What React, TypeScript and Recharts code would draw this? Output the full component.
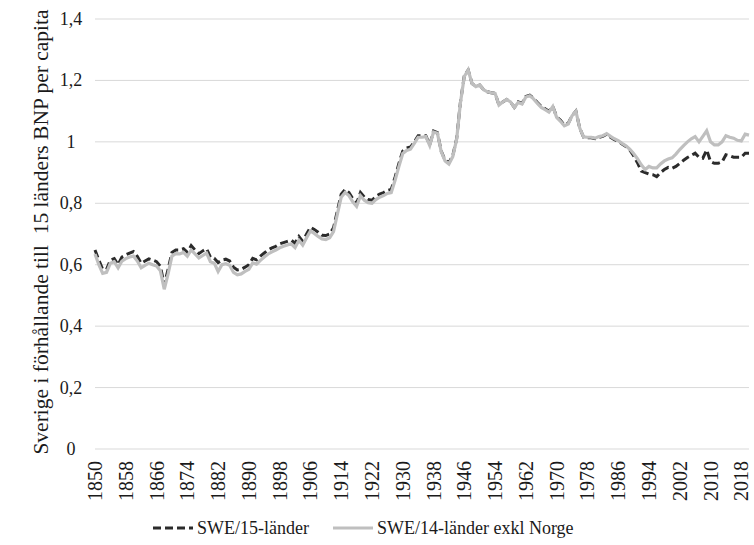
import React from 'react';
import { LineChart, Line, XAxis, YAxis, CartesianGrid } from 'recharts';

// Sverige i förhållande till övriga länders BNP per capita, 1850–2020
const firstYear = 1850;

const swe15 = [
  // 1850
  0.648, 0.615, 0.585, 0.585, 0.615, 0.62, 0.6, 0.625, 0.632, 0.638,
  // 1860
  0.643, 0.627, 0.605, 0.612, 0.619, 0.615, 0.61, 0.595, 0.534, 0.585,
  // 1870
  0.64, 0.648, 0.648, 0.652, 0.64, 0.662, 0.648, 0.636, 0.645, 0.652,
  // 1880
  0.625, 0.621, 0.607, 0.615, 0.618, 0.612, 0.592, 0.583, 0.585, 0.592,
  // 1890
  0.6, 0.621, 0.616, 0.628, 0.638, 0.648, 0.655, 0.66, 0.668, 0.672,
  // 1900
  0.676, 0.68, 0.67, 0.692, 0.676, 0.7, 0.722, 0.715, 0.706, 0.696,
  // 1910
  0.695, 0.7, 0.72, 0.775, 0.83, 0.845, 0.835, 0.815, 0.8, 0.835,
  // 1920
  0.82, 0.812, 0.81, 0.822, 0.83, 0.835, 0.842, 0.845, 0.885, 0.93,
  // 1930
  0.97, 0.98, 0.983, 1.0, 1.02, 1.02, 1.02, 0.99, 1.035, 1.03,
  // 1940
  0.97, 0.94, 0.932, 0.955, 1.01, 1.13, 1.215, 1.234, 1.19, 1.18,
  // 1950
  1.185, 1.17, 1.163, 1.16, 1.158, 1.12, 1.13, 1.138, 1.13, 1.112,
  // 1960
  1.13, 1.125, 1.148, 1.152, 1.142, 1.128, 1.115, 1.108, 1.1, 1.115,
  // 1970
  1.082, 1.07, 1.055, 1.06, 1.085, 1.1, 1.045, 1.015, 1.013, 1.013,
  // 1980
  1.01, 1.015, 1.018, 1.025, 1.015, 1.007, 1.002, 0.993, 0.985, 0.974,
  // 1990
  0.955, 0.932, 0.905, 0.9, 0.895, 0.893, 0.887, 0.9, 0.91, 0.917,
  // 2000
  0.914, 0.92, 0.93, 0.94, 0.949, 0.956, 0.963, 0.95, 0.947, 0.974,
  // 2010
  0.936, 0.93, 0.93, 0.935, 0.958, 0.955, 0.95, 0.95, 0.95, 0.963,
  // 2020
  0.963,
];

const swe14 = [
  // 1850
  0.635, 0.6, 0.572, 0.575, 0.605, 0.61, 0.59, 0.612, 0.62, 0.625,
  // 1860
  0.628, 0.612, 0.59, 0.598, 0.605, 0.6, 0.596, 0.58, 0.52, 0.57,
  // 1870
  0.628, 0.636, 0.635, 0.64, 0.628, 0.648, 0.635, 0.622, 0.63, 0.638,
  // 1880
  0.61, 0.605, 0.578, 0.6, 0.603, 0.598, 0.575, 0.567, 0.57, 0.578,
  // 1890
  0.585, 0.606, 0.602, 0.614, 0.625, 0.635, 0.642, 0.648, 0.655, 0.66,
  // 1900
  0.664, 0.668, 0.656, 0.68, 0.664, 0.688, 0.71, 0.702, 0.692, 0.684,
  // 1910
  0.682, 0.688, 0.708, 0.765, 0.82, 0.835, 0.825, 0.805, 0.79, 0.825,
  // 1920
  0.81, 0.802, 0.8, 0.812, 0.82, 0.825, 0.832, 0.835, 0.875, 0.92,
  // 1930
  0.962, 0.972, 0.976, 0.995, 1.015, 1.015, 1.017, 0.988, 1.032, 1.028,
  // 1940
  0.968, 0.938, 0.928, 0.952, 1.008, 1.128, 1.213, 1.234, 1.19, 1.18,
  // 1950
  1.185, 1.17, 1.163, 1.16, 1.158, 1.12, 1.13, 1.138, 1.13, 1.112,
  // 1960
  1.128, 1.123, 1.146, 1.15, 1.14, 1.125, 1.112, 1.105, 1.097, 1.115,
  // 1970
  1.08, 1.067, 1.052, 1.058, 1.085, 1.1, 1.045, 1.016, 1.015, 1.015,
  // 1980
  1.012, 1.017, 1.02, 1.027, 1.018, 1.01, 1.004, 0.995, 0.987, 0.976,
  // 1990
  0.962, 0.945, 0.925, 0.91, 0.92, 0.915, 0.915, 0.928, 0.938, 0.944,
  // 2000
  0.948, 0.96, 0.975, 0.988, 1.0, 1.01, 1.017, 1.0, 1.018, 1.036,
  // 2010
  1.0, 0.99, 0.99, 1.0, 1.02, 1.015, 1.012, 1.005, 1.003, 1.025,
  // 2020
  1.022,
];

const years = swe15.map((_, i) => String(firstYear + i));
const yTicks = [0, 0.2, 0.4, 0.6, 0.8, 1, 1.2, 1.4];
const seriesNames = ['SWE/15-länder', 'SWE/14-länder exkl Norge'];
const axisTitle = 'Sverige i förhållande till  15 länders BNP per capita';

const data = years.map((year, i) => ({ year, swe15: swe15[i], swe14: swe14[i] }));

const FONT = "'Liberation Serif', 'Times New Roman', serif";
const TEXT = '#1a1a1a';
const DARK = '#2b2b2b';
const GRAY = '#bfbfbf';

const YearTick = ({ x, y, payload }: any) => (
  <text
    x={x}
    y={y}
    transform={`rotate(-90 ${x} ${y})`}
    textAnchor="end"
    dominantBaseline="central"
    fontFamily={FONT}
    fontSize={20}
    fill={TEXT}
  >
    {payload.value}
  </text>
);

const ValueTick = ({ y, payload }: any) => (
  <text
    x={71}
    y={y}
    textAnchor="middle"
    dominantBaseline="central"
    fontFamily={FONT}
    fontSize={18}
    fill={TEXT}
  >
    {String(payload.value).replace('.', ',')}
  </text>
);

export default function App() {
  return (
    <div style={{ position: 'absolute', left: 0, top: 0, width: 754, height: 545, background: '#fff' }}>
      <LineChart
        width={754}
        height={545}
        data={data}
        margin={{ top: 19, right: 5, bottom: 0, left: 0 }}
      >
        <CartesianGrid vertical={false} stroke="#d9d9d9" strokeWidth={1} />
        <XAxis
          dataKey="year"
          interval={7}
          height={96}
          tickSize={0}
          tickMargin={12}
          axisLine={false}
          tickLine={false}
          tick={<YearTick />}
        />
        <YAxis
          domain={[0, 1.4]}
          ticks={yTicks}
          width={95}
          axisLine={false}
          tickLine={false}
          tick={<ValueTick />}
        />
        <Line
          type="linear"
          dataKey="swe15"
          name={seriesNames[0]}
          stroke={DARK}
          strokeWidth={3}
          strokeDasharray="8 4"
          dot={false}
          isAnimationActive={false}
        />
        <Line
          type="linear"
          dataKey="swe14"
          name={seriesNames[1]}
          stroke={GRAY}
          strokeWidth={3.2}
          dot={false}
          isAnimationActive={false}
        />
      </LineChart>
      <svg
        width={754}
        height={545}
        style={{ position: 'absolute', left: 0, top: 0, pointerEvents: 'none' }}
      >
        <text
          x={41}
          y={232}
          transform="rotate(-90 41 232)"
          textAnchor="middle"
          dominantBaseline="central"
          fontFamily={FONT}
          fontSize={21.5}
          fill={TEXT}
          style={{ whiteSpace: 'pre' }}
        >
          {axisTitle}
        </text>
        <line x1={153} y1={528} x2={193} y2={528} stroke={DARK} strokeWidth={3} strokeDasharray="8 4" />
        <text x={197} y={528} dominantBaseline="central" fontFamily={FONT} fontSize={18} fill={TEXT}>
          {seriesNames[0]}
        </text>
        <line x1={333} y1={528} x2={373} y2={528} stroke={GRAY} strokeWidth={3.2} />
        <text x={377} y={528} dominantBaseline="central" fontFamily={FONT} fontSize={18} fill={TEXT}>
          {seriesNames[1]}
        </text>
      </svg>
    </div>
  );
}
